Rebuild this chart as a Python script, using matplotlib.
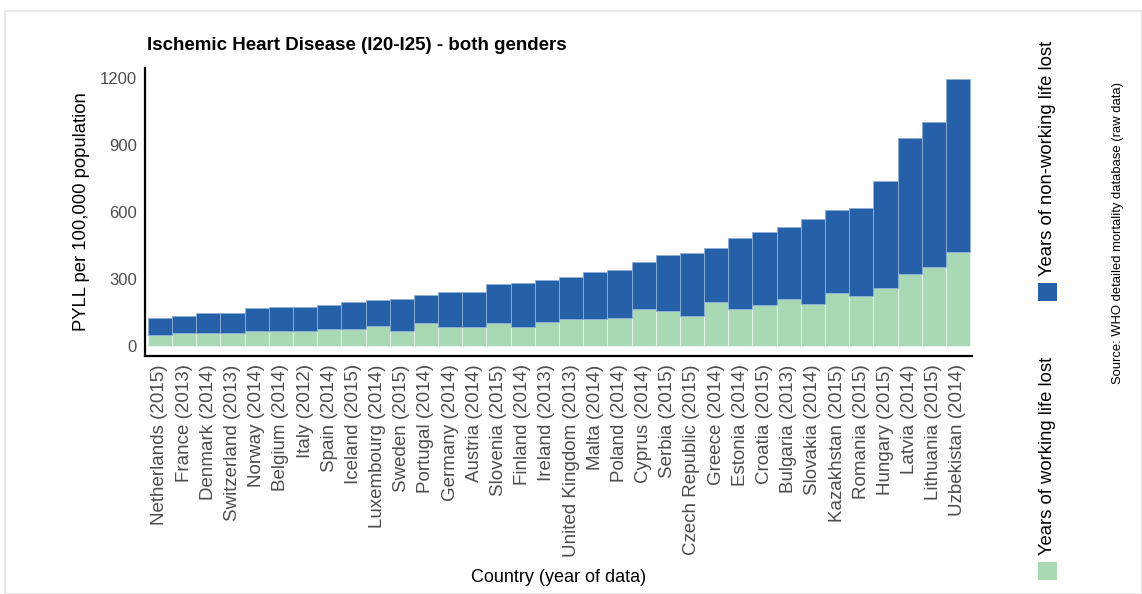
import numpy as np
import matplotlib
matplotlib.use("Agg")
import matplotlib.pyplot as plt
from matplotlib.patches import Rectangle

plt.rcParams['font.family'] = ['Liberation Sans', 'DejaVu Sans']

# data (PYLL per 100,000 population)
countries = ["Netherlands (2015)", "France (2013)", "Denmark (2014)", "Switzerland (2013)",
             "Norway (2014)", "Belgium (2014)", "Italy (2012)", "Spain (2014)",
             "Iceland (2015)", "Luxembourg (2014)", "Sweden (2015)", "Portugal (2014)",
             "Germany (2014)", "Austria (2014)", "Slovenia (2015)", "Finland (2014)",
             "Ireland (2013)", "United Kingdom (2013)", "Malta (2014)", "Poland (2014)",
             "Cyprus (2014)", "Serbia (2015)", "Czech Republic (2015)", "Greece (2014)",
             "Estonia (2014)", "Croatia (2015)", "Bulgaria (2013)", "Slovakia (2014)",
             "Kazakhstan (2015)", "Romania (2015)", "Hungary (2015)", "Latvia (2014)",
             "Lithuania (2015)", "Uzbekistan (2014)"]
total = [123, 132, 146, 148, 168, 171, 175, 181, 195, 205, 208, 226, 240, 241, 277, 282,
         294, 307, 330, 340, 373, 404, 415, 438, 483, 510, 530, 568, 610, 617, 739, 932,
         1001, 1194]
working = [47, 58, 54, 54, 63, 66, 67, 74, 72, 87, 67, 99, 85, 83, 102, 85,
           105, 119, 121, 124, 164, 153, 132, 196, 165, 183, 208, 186, 234, 220, 259, 322,
           351, 421]
non_working = [t - w for t, w in zip(total, working)]

blue = "#2560a8"
green = "#a9d8b5"

fig = plt.figure(figsize=(11.42, 5.94), dpi=100)
W, H = 1142, 594

# light frame around the whole picture
fig.patches.append(Rectangle((5 / W, 0), 1 - 5 / W, 1 - 11 / H, transform=fig.transFigure,
                             fill=False, edgecolor="#e3e3e3", linewidth=1.2))

ax = fig.add_axes([145 / W, 1 - 356 / H, (972 - 145) / W, (356 - 68) / H])
x = np.arange(len(countries))
ax.bar(x, working, width=1.0, color=green, edgecolor="#eef6f0", linewidth=0.6)
ax.bar(x, non_working, width=1.0, bottom=working, color=blue, edgecolor="#8fb0d6", linewidth=0.6)

ax.set_xlim(-0.62, len(countries) - 0.42)
ax.set_ylim(-47, 1245)
ax.set_yticks([0, 300, 600, 900, 1200])
ax.set_xticks(x)
ax.set_xticklabels(countries, rotation=90, ha="center", va="top")
ax.tick_params(axis="x", length=0, pad=6, labelsize=13.5, labelcolor="#4d4d4d")
ax.tick_params(axis="y", length=0, pad=6, labelsize=12, labelcolor="#4d4d4d")
for s in ["top", "right"]:
    ax.spines[s].set_visible(False)
for s in ["left", "bottom"]:
    ax.spines[s].set_linewidth(1.6)
    ax.spines[s].set_color("black")

ax.set_ylabel("PYLL per 100,000 population", fontsize=13.3, labelpad=7)
fig.text(559 / W, 1 - 578 / H, "Country (year of data)", fontsize=13, ha="center", va="center")
fig.text(147 / W, 1 - 45 / H, "Ischemic Heart Disease (I20-I25) - both genders",
         fontsize=13.5, fontweight="bold", ha="left", va="center")

# legend drawn vertically on the right
fig.patches.append(Rectangle((1038 / W, 1 - 301 / H), 19 / W, 18 / H, transform=fig.transFigure,
                             facecolor=blue, edgecolor="none"))
fig.patches.append(Rectangle((1038 / W, 1 - 580 / H), 19 / W, 18 / H, transform=fig.transFigure,
                             facecolor=green, edgecolor="none"))
fig.text(1048 / W, 1 - 276 / H, "Years of non-working life lost", rotation=90,
         fontsize=13.3, ha="center", va="bottom")
fig.text(1048 / W, 1 - 555 / H, "Years of working life lost", rotation=90,
         fontsize=13.3, ha="center", va="bottom")
fig.text(1118 / W, 1 - 233 / H, "Source: WHO detailed mortality database (raw data)", rotation=90,
         fontsize=9.4, ha="center", va="center")

fig.savefig("out.png", dpi=100)
